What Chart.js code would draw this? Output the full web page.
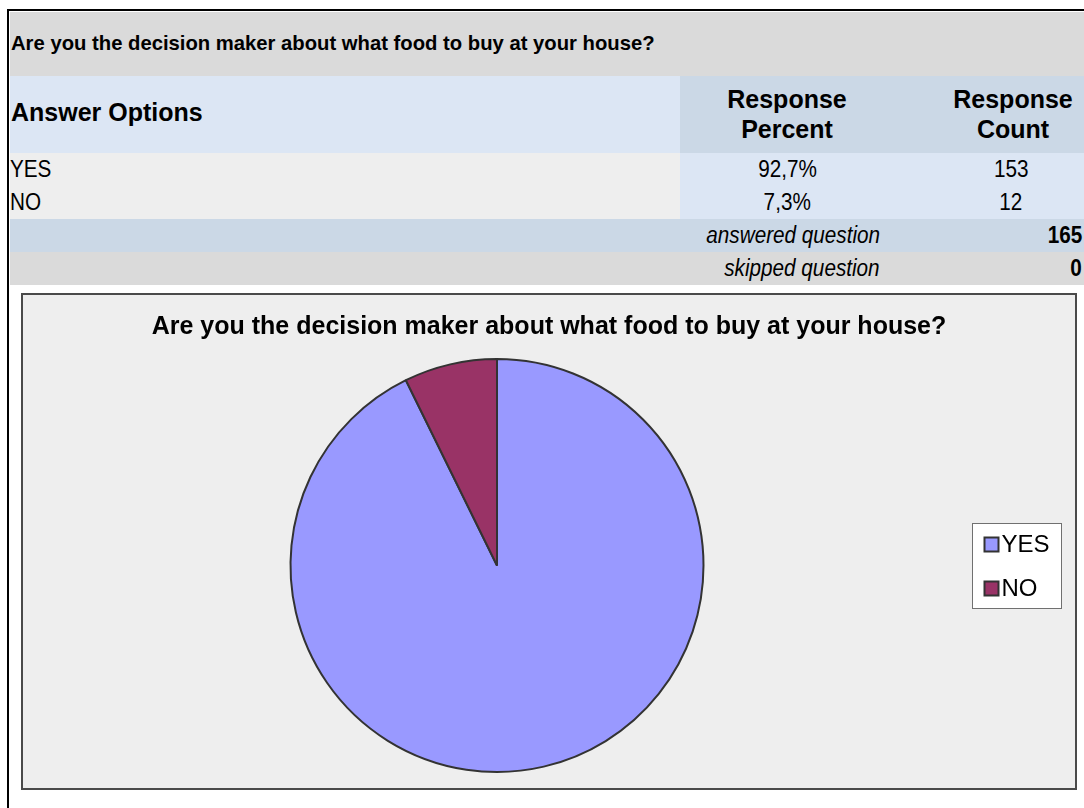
<!DOCTYPE html>
<html>
<head>
<meta charset="utf-8">
<script src="https://cdn.jsdelivr.net/npm/chart.js@4/dist/chart.umd.min.js"></script>
<style>
  html, body { margin: 0; padding: 0; background: #ffffff; }
  body { width: 1084px; height: 808px; position: relative; overflow: hidden;
         font-family: "Liberation Sans", Arial, sans-serif; color: #000; }
  .frame { position: absolute; left: 7px; top: 9px; width: 1100px; height: 820px;
           border-left: 2px solid #000; border-top: 2px solid #000; }
  .band { position: absolute; left: 10px; width: 1074px; }
  .cell { position: absolute; top: 0; bottom: 0; }
  .txt { position: absolute; white-space: nowrap; }
  .narrow { display: inline-block; transform: scaleX(0.9); }
  .chartbox { position: absolute; left: 21px; top: 293px; width: 1052px; height: 493px;
              border: 2px solid #4a4a4a; background: #eeeeee; }
</style>
</head>
<body>
<div class="frame"></div>

<!-- survey summary table -->
<div class="band" style="top:12px;height:64px;background:#dadada;">
  <div class="txt" id="question" style="left:1px;top:20px;font-size:20.25px;font-weight:bold;"></div>
</div>
<div class="band" style="top:76px;height:77px;">
  <div class="cell" style="left:0;width:670px;background:#dce6f4;"></div>
  <div class="cell" style="left:670px;right:0;background:#cbd8e6;"></div>
  <div class="txt" id="hdrOptions" style="left:1px;top:22px;font-size:25px;font-weight:bold;"></div>
  <div class="txt" id="hdrPercent" style="left:697px;width:160px;top:8px;font-size:25px;font-weight:bold;text-align:center;line-height:30px;white-space:normal;"></div>
  <div class="txt" id="hdrCount" style="left:925px;width:156px;top:8px;font-size:25px;font-weight:bold;text-align:center;line-height:30px;white-space:normal;"></div>
</div>
<div id="rows"></div>
<div class="band" style="top:219px;height:33px;background:#cbd8e6;">
  <div class="txt" style="right:204px;top:3px;font-size:23px;font-style:italic;"><span class="narrow" id="answeredLbl" style="transform-origin:right center;"></span></div>
  <div class="txt" style="right:2px;top:3px;font-size:23px;font-weight:bold;"><span class="narrow" id="answeredVal" style="transform-origin:right center;"></span></div>
</div>
<div class="band" style="top:252px;height:33px;background:#dadada;">
  <div class="txt" style="right:204px;top:3px;font-size:23px;font-style:italic;"><span class="narrow" id="skippedLbl" style="transform-origin:right center;"></span></div>
  <div class="txt" style="right:2px;top:3px;font-size:23px;font-weight:bold;"><span class="narrow" id="skippedVal" style="transform-origin:right center;"></span></div>
</div>

<div class="chartbox"><canvas id="pie"></canvas></div>

<script>
// Survey question and answers
const question = "Are you the decision maker about what food to buy at your house?";
const answerOptions = ["YES", "NO"];
const responsePercent = ["92,7%", "7,3%"];
const responseCount = [153, 12];
const answeredQuestion = 165;
const skippedQuestion = 0;
const sliceColors = ["#9999ff", "#993366"];

// fill the summary table
document.getElementById("question").textContent = question;
document.getElementById("hdrOptions").textContent = "Answer Options";
document.getElementById("hdrPercent").textContent = "Response Percent";
document.getElementById("hdrCount").textContent = "Response Count";
document.getElementById("answeredLbl").textContent = "answered question";
document.getElementById("answeredVal").textContent = String(answeredQuestion);
document.getElementById("skippedLbl").textContent = "skipped question";
document.getElementById("skippedVal").textContent = String(skippedQuestion);

const rowsEl = document.getElementById("rows");
answerOptions.forEach((opt, i) => {
  const top = 153 + i * 33;
  rowsEl.insertAdjacentHTML("beforeend",
    `<div class="band" style="top:${top}px;height:33px;">
       <div class="cell" style="left:0;width:670px;background:#eeeeee;"></div>
       <div class="cell" style="left:670px;right:0;background:#dce6f4;"></div>
       <div class="txt" style="left:0;top:3px;font-size:23px;"><span class="narrow" style="transform-origin:left center;">${opt}</span></div>
       <div class="txt" style="left:700px;width:155px;top:3px;font-size:23px;text-align:center;"><span class="narrow">${responsePercent[i]}</span></div>
       <div class="txt" style="left:925px;width:152px;top:3px;font-size:23px;text-align:center;"><span class="narrow">${responseCount[i]}</span></div>
     </div>`);
});

// Boxed legend as a layout box on the right: it takes its own column of the
// chart layout (so the pie shifts left while the title stays centred) and
// draws the labels and colours of the dataset inside a white frame.
const boxedLegend = {
  id: "boxedLegend",
  beforeInit(chart) {
    const box = {
      position: "right",
      weight: 100,
      fullSize: false,
      options: {},
      left: 0, top: 0, right: 0, bottom: 0, width: 0, height: 0,
      isHorizontal() { return false; },
      update(maxWidth, maxHeight) {
        this.width = Math.min(104, maxWidth);
        this.height = maxHeight;
      },
      draw() {
        const ctx = chart.ctx;
        const ds = chart.data.datasets[0];
        const labels = chart.data.labels;
        const rowGap = 44, sq = 14, fontSize = 24;
        const boxW = 89, boxH = rowGap * labels.length - 3;
        const boxX = Math.round(this.right - 14 - boxW) + 0.5;
        const midY = (chart.chartArea.top + chart.chartArea.bottom) / 2;
        const boxY = Math.round(midY - boxH / 2) + 0.5;
        ctx.save();
        ctx.fillStyle = "#ffffff";
        ctx.strokeStyle = "#707070";
        ctx.lineWidth = 1;
        ctx.fillRect(boxX, boxY, boxW, boxH);
        ctx.strokeRect(boxX, boxY, boxW, boxH);
        ctx.font = fontSize + "px 'Liberation Sans', Arial, sans-serif";
        ctx.textBaseline = "middle";
        ctx.textAlign = "left";
        labels.forEach((lab, i) => {
          const cy = boxY + 21 + i * rowGap;
          ctx.fillStyle = ds.backgroundColor[i];
          ctx.strokeStyle = "#333333";
          ctx.lineWidth = 2;
          ctx.fillRect(boxX + 12, cy - sq / 2, sq, sq);
          ctx.strokeRect(boxX + 12, cy - sq / 2, sq, sq);
          ctx.fillStyle = "#000000";
          ctx.fillText(lab, boxX + 29, cy + 1);
        });
        ctx.restore();
      }
    };
    Chart.layouts.addBox(chart, box);
  }
};

new Chart(document.getElementById("pie"), {
  type: "pie",
  data: {
    labels: answerOptions,
    datasets: [{
      data: responseCount,
      backgroundColor: sliceColors,
      borderColor: "#333333",
      borderWidth: 2
    }]
  },
  plugins: [boxedLegend],
  options: {
    responsive: true,
    maintainAspectRatio: false,
    animation: false,
    rotation: 0,
    layout: { padding: { left: 0, right: 0, top: 0, bottom: 15 } },
    plugins: {
      title: {
        display: true,
        text: question,
        color: "#000000",
        font: { family: "'Liberation Sans', Arial, sans-serif", size: 25, weight: "bold" },
        padding: { top: 17, bottom: 16 }
      },
      legend: { display: false },
      tooltip: { enabled: false }
    }
  }
});
</script>
</body>
</html>
